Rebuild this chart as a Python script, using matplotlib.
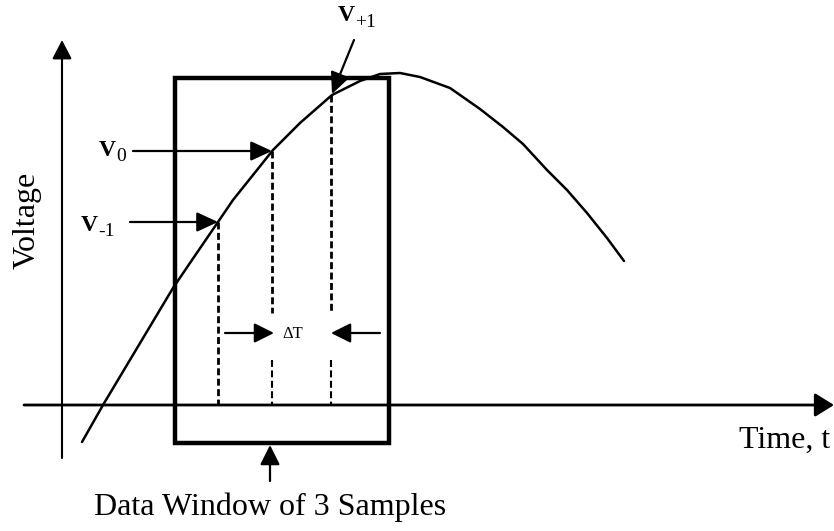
import matplotlib
matplotlib.use("Agg")
import matplotlib.pyplot as plt
from matplotlib.patches import Rectangle

plt.rcParams['font.family'] = ['Liberation Serif', 'DejaVu Serif']
plt.rcParams['lines.scale_dashes'] = False

# ---- data (pixel-space diagram coordinates, y grows downward) ----
curve_x = [82, 103, 173, 192, 218, 233, 273, 300, 332, 360, 380, 400, 420, 450,
           480, 503, 523, 547, 567, 587, 607, 624]
curve_y = [442, 405, 288, 260, 222, 200, 150, 123, 95, 81, 74, 73, 77, 88,
           109, 127, 144, 170, 190, 213, 238, 261]

sample_x = [218, 272, 331]
sample_y = [222, 151, 95]
sample_names = ["-1", "0", "+1"]

window_left, window_right = 175, 389
window_top, window_bottom = 78, 443

axis_origin_x, axis_origin_y = 62, 405

fig = plt.figure(figsize=(8.34, 5.31), dpi=100)
ax = fig.add_axes([0, 0, 1, 1])
ax.set_xlim(0, 834)
ax.set_ylim(531, 0)
ax.axis('off')

def arrow(x0, y0, x1, y1, lw=1.5, hl=0.6, hw=0.3, ms=20):
    ax.annotate("", xy=(x1, y1), xytext=(x0, y0),
                arrowprops=dict(arrowstyle=f"-|>,head_length={hl},head_width={hw}",
                                mutation_scale=ms, lw=lw, color='black',
                                fc='black', shrinkA=0, shrinkB=0))

# axes
arrow(axis_origin_x, 458, axis_origin_x, 40, lw=1.5, hl=0.58, hw=0.3)
arrow(24, axis_origin_y, 834, axis_origin_y, lw=2.0, hl=0.58, hw=0.36)

# data window rectangle
ax.add_patch(Rectangle((window_left, window_top), window_right - window_left,
                       window_bottom - window_top, fill=False, lw=3.2,
                       ec='black', zorder=2))

# signal curve
ax.plot(curve_x, curve_y, color='black', lw=1.8, solid_capstyle='round',
        solid_joinstyle='round', zorder=3)

# dashed sample lines
dash = (0, (5, 2.5))
ax.plot([sample_x[0], sample_x[0]], [sample_y[0], axis_origin_y], color='black', lw=2.0, linestyle=dash)
for sx, sy in zip(sample_x[1:], sample_y[1:]):
    ax.plot([sx, sx], [sy, 313], color='black', lw=2.0, linestyle=dash)
    ax.plot([sx, sx], [360, axis_origin_y], color='black', lw=1.5, linestyle=dash)

# sample label arrows
arrow(130, sample_y[0], sample_x[0], sample_y[0], lw=1.6, hl=0.65, hw=0.3)
arrow(133, sample_y[1], sample_x[1], sample_y[1], lw=1.6, hl=0.65, hw=0.3)
arrow(354, 40, sample_x[2] + 1, sample_y[2] - 1, lw=1.6, hl=0.65, hw=0.3)

# sample labels
label_pos = [(81, 231), (99, 156), (338, 21)]
sub_off = [(17, 5), (17, 5), (17, 6)]
for (lx, ly), (dx, dy), name in zip(label_pos, sub_off, sample_names):
    ax.text(lx, ly, "V", fontsize=17, fontweight='bold', ha='left', va='baseline')
    ax.text(lx + dx, ly + dy, name, fontsize=14, ha='left', va='baseline')

# delta T
arrow(225, 333, sample_x[1] + 2, 333, lw=1.6, hl=0.6, hw=0.3)
arrow(380, 333, sample_x[2], 333, lw=1.6, hl=0.6, hw=0.3)
ax.text(293, 334, "ΔT", fontsize=12, ha='center', va='center')

# window label arrow
arrow(270, 481, 270, window_bottom + 2, lw=1.6, hl=0.6, hw=0.3)

ax.text(27, 220, "Voltage", fontsize=23, rotation=90, ha='center', va='center')
ax.text(739, 448, "Time, t", fontsize=23, ha='left', va='baseline')
ax.text(270, 515, "Data Window of 3 Samples", fontsize=23, ha='center', va='baseline')

fig.savefig("out.png", dpi=100)
